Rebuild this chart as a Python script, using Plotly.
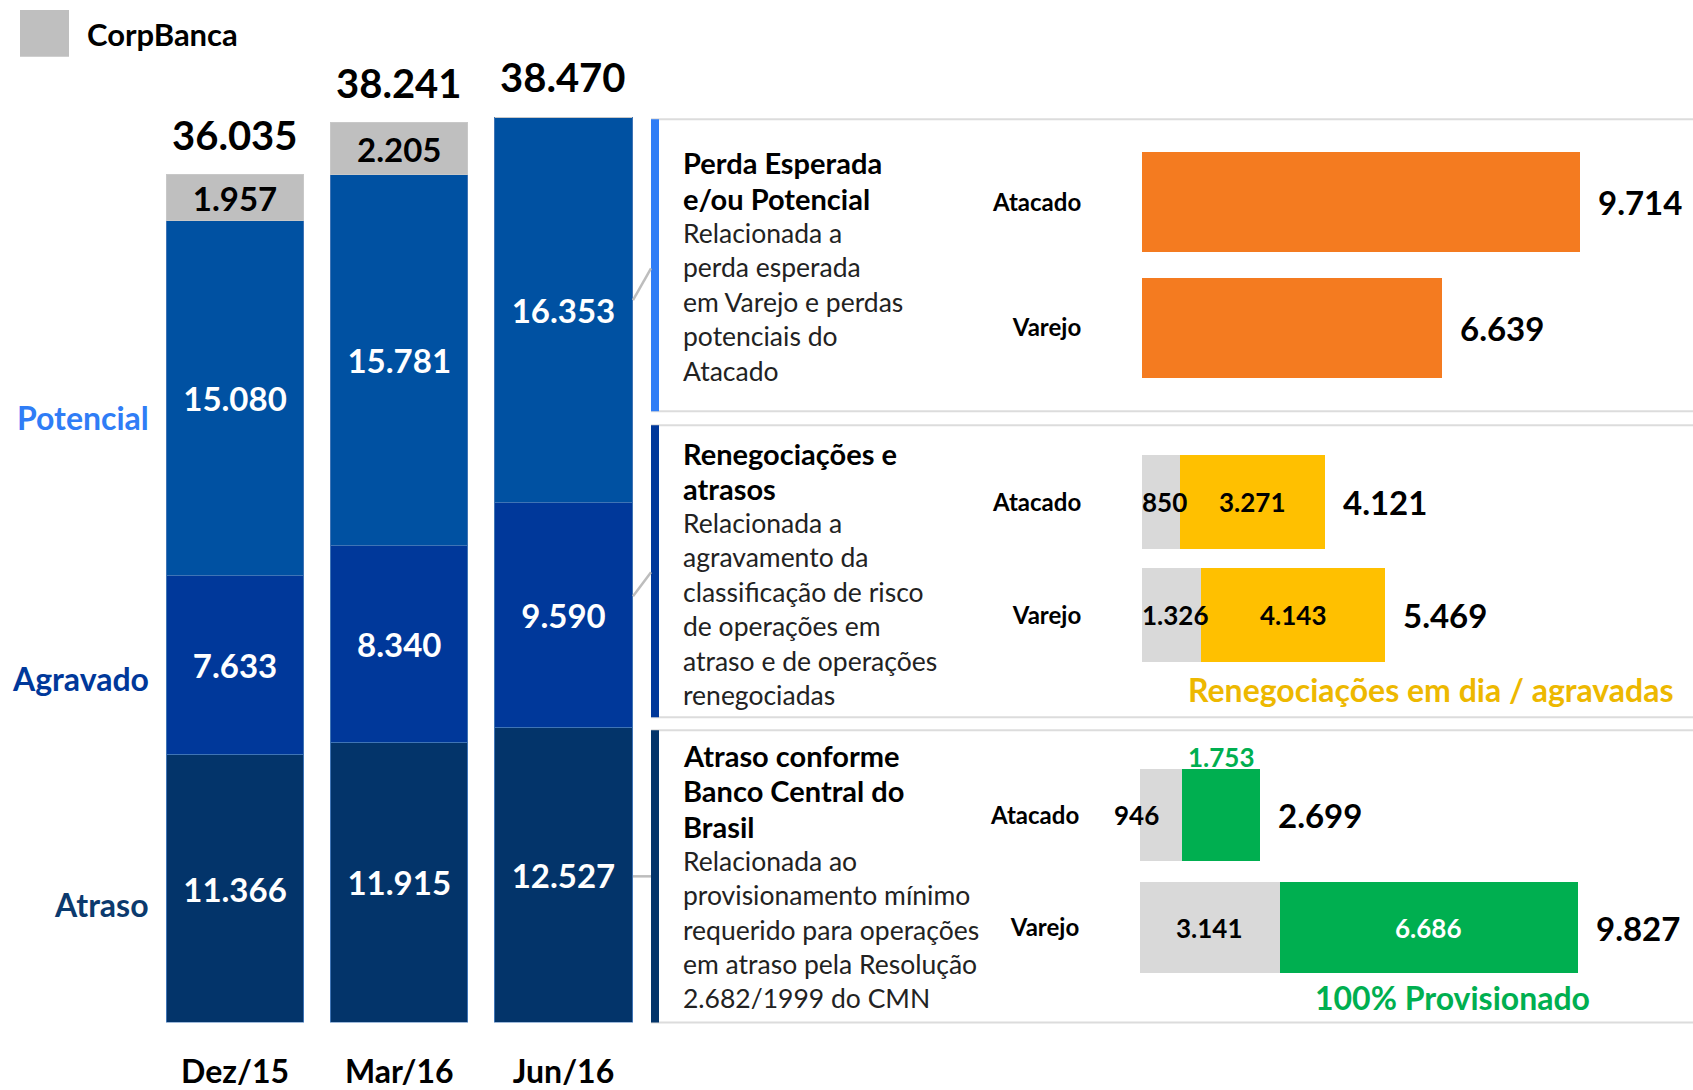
import plotly.graph_objects as go

# ---------------- data ----------------
periods = ["Dez/15", "Mar/16", "Jun/16"]
atraso = [11366, 11915, 12527]
agravado = [7633, 8340, 9590]
potencial = [15080, 15781, 16353]
corpbanca = [1957, 2205, 0]
totals = [36035, 38241, 38470]

rows = ["Varejo", "Atacado"]
perda = [6639, 9714]
reneg_corp = [1326, 850]
reneg_main = [4143, 3271]
reneg_total = [5469, 4121]
atr_corp = [3141, 946]
atr_main = [6686, 1753]
atr_total = [9827, 2699]

sec1_title = ["Perda Esperada", "e/ou Potencial"]
sec1_body = ["Relacionada a", "perda esperada", "em Varejo e perdas", "potenciais do", "Atacado"]
sec2_title = ["Renegociações e", "atrasos"]
sec2_body = ["Relacionada a", "agravamento da", "classificação de risco", "de operações em",
             "atraso e de operações", "renegociadas"]
sec3_title = ["Atraso conforme", "Banco Central do", "Brasil"]
sec3_body = ["Relacionada ao", "provisionamento mínimo", "requerido para operações",
             "em atraso pela Resolução", "2.682/1999 do CMN"]

# ---------------- helpers ----------------
W, H = 1693, 1090
FONT = "Lato"


def px(x):
    return x / W


def py(y):
    return 1 - y / H


def fmt(v):
    return f"{v:,}".replace(",", ".")


C_ATR = "#03346A"
C_AGR = "#00389A"
C_POT = "#0051A2"
C_GRAY = "#BFBFBF"
C_LGRAY = "#D9D9D9"
C_BRIGHT = "#2F7DF6"
C_ORANGE = "#F47B20"
C_YELLOW = "#FFC000"
C_GREEN = "#00AF50"

fig = go.Figure()

# ---------------- left stacked bars ----------------
for name, vals, color, tcol, lcol in [
    ("Atraso", atraso, C_ATR, "white", "#3F74B5"),
    ("Agravado", agravado, C_AGR, "white", "#3F74B5"),
    ("Potencial", potencial, C_POT, "white", "#3F74B5"),
    ("CorpBanca", corpbanca, C_GRAY, "black", "#C8C8C8"),
]:
    fig.add_trace(go.Bar(
        x=periods, y=vals, name=name,
        marker=dict(color=color, line=dict(color=lcol, width=1)),
        width=0.835,
        text=[fmt(v) if v else "" for v in vals],
        textposition="inside", insidetextanchor="middle", textangle=0,
        constraintext="none",
        textfont=dict(family=FONT, size=33, color=tcol, weight="bold"),
        xaxis="x", yaxis="y", showlegend=False, hoverinfo="skip",
    ))

# ---------------- right horizontal bars ----------------
fig.add_trace(go.Bar(y=rows, x=perda, orientation="h", marker=dict(color=C_ORANGE, line=dict(width=0)),
                     width=0.8, xaxis="x2", yaxis="y2", showlegend=False, hoverinfo="skip"))
fig.add_trace(go.Bar(y=rows, x=reneg_corp, orientation="h", marker=dict(color=C_LGRAY, line=dict(width=0)),
                     width=0.83, xaxis="x3", yaxis="y3", showlegend=False, hoverinfo="skip"))
fig.add_trace(go.Bar(y=rows, x=reneg_main, orientation="h", marker=dict(color=C_YELLOW, line=dict(width=0)),
                     width=0.83, xaxis="x3", yaxis="y3", showlegend=False, hoverinfo="skip"))
fig.add_trace(go.Bar(y=rows, x=atr_corp, orientation="h", marker=dict(color=C_LGRAY, line=dict(width=0)),
                     width=0.82, xaxis="x4", yaxis="y4", showlegend=False, hoverinfo="skip"))
fig.add_trace(go.Bar(y=rows, x=atr_main, orientation="h", marker=dict(color=C_GREEN, line=dict(width=0)),
                     width=0.82, xaxis="x4", yaxis="y4", showlegend=False, hoverinfo="skip"))

ann = []

# totals above left bars
for p, t in zip(periods, totals):
    ann.append(dict(x=p, y=t, xref="x", yref="y", text=fmt(t), showarrow=False, yshift=40,
                    font=dict(family=FONT, size=40, color="black", weight="bold")))

# left category labels
for txt, yy, col in [("Potencial", 420, C_BRIGHT), ("Agravado", 683, C_AGR), ("Atraso", 910, "#0B3A6E")]:
    ann.append(dict(x=px(151), y=py(yy), xref="paper", yref="paper", text=txt, showarrow=False,
                    xanchor="right", yanchor="middle",
                    font=dict(family=FONT, size=32, color=col, weight="bold")))

# legend text
ann.append(dict(x=px(85), y=py(34), xref="paper", yref="paper", text="CorpBanca", showarrow=False,
                xanchor="left", yanchor="middle", font=dict(family=FONT, size=31, color="black", weight="bold")))

# section texts
for start, title, body in [(164, sec1_title, sec1_body), (456, sec2_title, sec2_body), (760, sec3_title, sec3_body)]:
    y = start
    for t in title:
        ann.append(dict(x=px(681), y=py(y), xref="paper", yref="paper", text=t, showarrow=False,
                        xanchor="left", yanchor="middle",
                        font=dict(family=FONT, size=29, color="black", weight="bold")))
        y += 36
    y -= 1.5
    for t in body:
        ann.append(dict(x=px(681), y=py(y), xref="paper", yref="paper", text=t, showarrow=False,
                        xanchor="left", yanchor="middle",
                        font=dict(family=FONT, size=26.5, color="#222222")))
        y += 34.6

# right totals
for xa, ya, vals in [("x2", "y2", perda), ("x3", "y3", reneg_total), ("x4", "y4", atr_total)]:
    for r, v in zip(rows, vals):
        ann.append(dict(x=v, y=r, xref=xa, yref=ya, text=fmt(v), showarrow=False, xanchor="left",
                        xshift=16, font=dict(family=FONT, size=33, color="black", weight="bold")))

# inner labels section 2
for r, c, m in zip(rows, reneg_corp, reneg_main):
    ann.append(dict(x=c / 2, y=r, xref="x3", yref="y3", text=fmt(c), showarrow=False, xshift=4,
                    font=dict(family=FONT, size=26, color="black", weight="bold")))
    ann.append(dict(x=c + m / 2, y=r, xref="x3", yref="y3", text=fmt(m), showarrow=False,
                    font=dict(family=FONT, size=26, color="black", weight="bold")))

# inner labels section 3
ann.append(dict(x=atr_corp[0] / 2, y=rows[0], xref="x4", yref="y4", text=fmt(atr_corp[0]), showarrow=False,
                font=dict(family=FONT, size=26, color="black", weight="bold")))
ann.append(dict(x=atr_corp[0] + atr_main[0] / 2, y=rows[0], xref="x4", yref="y4", text=fmt(atr_main[0]),
                showarrow=False, font=dict(family=FONT, size=26, color="white", weight="bold")))
ann.append(dict(x=atr_corp[1] / 2, y=rows[1], xref="x4", yref="y4", text=fmt(atr_corp[1]), showarrow=False,
                xshift=-25, font=dict(family=FONT, size=26, color="black", weight="bold")))
ann.append(dict(x=atr_corp[1] + atr_main[1] / 2, y=rows[1], xref="x4", yref="y4", text=fmt(atr_main[1]),
                showarrow=False, yshift=58, font=dict(family=FONT, size=26, color=C_GREEN, weight="bold")))

# captions
ann.append(dict(x=px(1676), y=py(694), xref="paper", yref="paper", text="Renegociações em dia / agravadas",
                showarrow=False, xanchor="right", yanchor="middle",
                font=dict(family=FONT, size=32, color="#EDB800", weight="bold")))
ann.append(dict(x=px(1452), y=py(1004), xref="paper", yref="paper", text="100% Provisionado",
                showarrow=False, xanchor="center", yanchor="middle",
                font=dict(family=FONT, size=32, color=C_GREEN, weight="bold")))

# ---------------- shapes ----------------
shapes = []
shapes.append(dict(type="rect", xref="paper", yref="paper", x0=px(20), x1=px(69), y0=py(57), y1=py(10),
                   fillcolor=C_GRAY, line=dict(width=0)))
for top, bot, col in [(120, 414, C_BRIGHT), (428, 722, C_AGR), (735, 1029, C_ATR)]:
    for yy in (top, bot):
        shapes.append(dict(type="line", xref="paper", yref="paper", x0=px(651), x1=px(1693),
                           y0=py(yy), y1=py(yy), line=dict(color="#DCDCDC", width=2)))
    shapes.append(dict(type="rect", xref="paper", yref="paper", x0=px(651), x1=px(659), y0=py(bot), y1=py(top),
                       fillcolor=col, line=dict(width=0)))
for (x0, y0, x1, y1) in [(633, 302, 651, 270), (633, 600, 651, 576), (633, 882, 651, 882)]:
    shapes.append(dict(type="line", xref="paper", yref="paper", x0=px(x0), x1=px(x1), y0=py(y0), y1=py(y1),
                       line=dict(color="#BDBDBD", width=2.5)))

# ---------------- layout ----------------
hidden = dict(showgrid=False, zeroline=False, showline=False, visible=False)


def right_y(dom_top, dom_bot, xa):
    return dict(domain=[py(dom_bot), py(dom_top)], anchor=xa, type="category",
                categoryorder="array", categoryarray=rows, range=[-0.5, 1.5],
                showgrid=False, zeroline=False, showline=False,
                ticks="outside", ticklen=55, tickcolor="rgba(0,0,0,0)",
                tickfont=dict(family=FONT, size=24, color="black", weight="bold"))


fig.update_layout(
    width=W, height=H, autosize=False, margin=dict(l=0, r=0, t=0, b=0, pad=0),
    paper_bgcolor="white", plot_bgcolor="white",
    barmode="stack", showlegend=False,
    font=dict(family=FONT),
    xaxis=dict(domain=[px(152.9), px(645.6)], anchor="y", type="category",
               showgrid=False, zeroline=False, showline=False,
               ticks="outside", ticklen=21, tickcolor="rgba(0,0,0,0)",
               tickfont=dict(family=FONT, size=32, color="black", weight="bold")),
    yaxis=dict(domain=[py(1029), py(81.8)], range=[0, 40000], anchor="x", **hidden),
    xaxis2=dict(domain=[px(1142), px(1685)], range=[0, 12030], anchor="y2", **hidden),
    yaxis2=right_y(140.3, 393.1, "x2"),
    xaxis3=dict(domain=[px(1142), px(1685)], range=[0, 12200], anchor="y3", **hidden),
    yaxis3=right_y(448.4, 676.4, "x3"),
    xaxis4=dict(domain=[px(1140), px(1685)], range=[0, 12230], anchor="y4", **hidden),
    yaxis4=right_y(764.3, 989.9, "x4"),
    annotations=ann, shapes=shapes,
)

fig.write_html("out.html", config={"displayModeBar": False, "responsive": False},
               post_script="document.body.style.margin='0';document.body.style.overflow='hidden';")
